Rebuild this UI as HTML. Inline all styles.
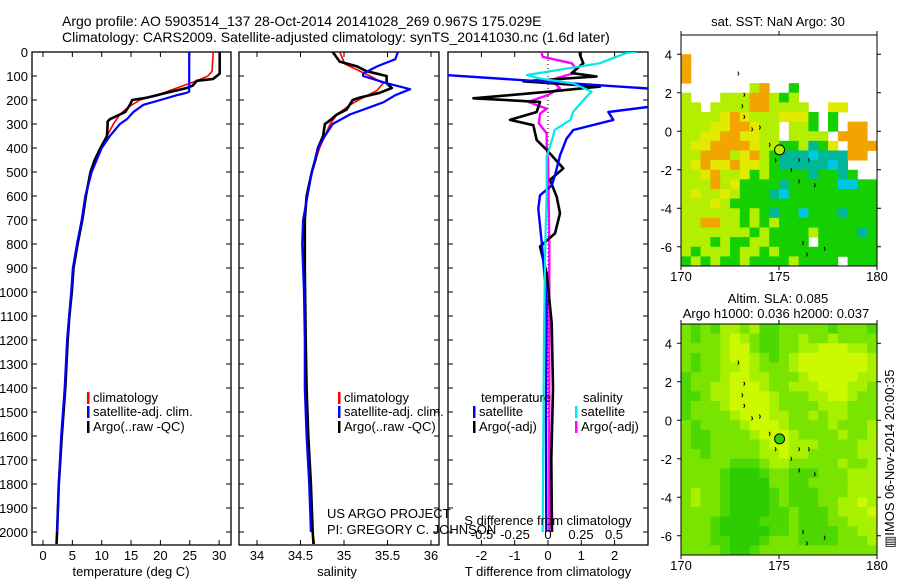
<!DOCTYPE html>
<html><head><meta charset="utf-8">
<style>
html,body{margin:0;padding:0;background:#fff;}
svg{display:block;font-family:"Liberation Sans",sans-serif;}
text{fill:#000;}
</style></head>
<body>
<svg id="chart" width="900" height="580" viewBox="0 0 900 580" xmlns="http://www.w3.org/2000/svg">
<rect x="0" y="0" width="900" height="580" fill="#fff"/>
<text x="62" y="26" font-size="14">Argo profile: AO 5903514_137 28-Oct-2014 20141028_269 0.967S 175.029E</text>
<text x="62" y="42" font-size="14">Climatology: CARS2009. Satellite-adjusted climatology: synTS_20141030.nc (1.6d later)</text>
<defs>
<clipPath id="c1"><rect x="32" y="52" width="199" height="493"/></clipPath>
<clipPath id="c2"><rect x="239" y="52" width="200" height="493"/></clipPath>
<clipPath id="c3"><rect x="448" y="52" width="200" height="493"/></clipPath>
</defs>
<g id="g1"></g>
<g id="g2"></g>
<g id="g3"></g>
<g id="m1"></g>
<g id="m2"></g>
<text x="778" y="26" font-size="13" text-anchor="middle">sat. SST: NaN Argo: 30</text>
<text x="778" y="303" font-size="13" text-anchor="middle">Altim. SLA: 0.085</text>
<text x="776" y="318" font-size="13" text-anchor="middle">Argo h1000: 0.036 h2000: 0.037</text>
<text transform="translate(894,548) rotate(-90)" font-size="13">▥IMOS 06-Nov-2014 20:00:35</text>
<text x="327" y="518" font-size="13">US ARGO PROJECT</text>
<text x="327" y="534" font-size="13">PI: GREGORY C. JOHNSON</text>
</svg>
<script>
const NS='http://www.w3.org/2000/svg';
const depthTicks=[0,100,200,300,400,500,600,700,800,900,1000,1100,1200,1300,1400,1500,1600,1700,1800,1900,2000];
const tempTicks=[0,5,10,15,20,25,30];
const salTicks=[34,34.5,35,35.5,36];
const tdiffTicks=[-2,-1,0,1,2];
const sdiffTicks=[-0.5,-0.25,0,0.25,0.5];

const argoTempDepth=[0,90,100,112,120,140,150,160,170,180,190,200,220,250,280,290,300,350,400,450,500,600,700,800,900,1000,1100,1200,1400,1600,1800,2000,2050];
const argoTemp=[30.1,30.1,29.6,29.0,26.2,25.5,24.5,22.8,21.0,19.4,17.7,15.2,14.8,14.0,11.4,11.0,11.0,10.9,9.8,8.8,8.1,7.3,6.7,5.9,5.2,4.9,4.5,4.2,3.8,3.2,2.7,2.4,2.3];
const climTempDepth=[0,80,100,120,150,180,200,230,260,300,350,400,500,600,700,800,900,1000,1200,1400,1600,1800,2000,2050];
const climTemp=[29.0,28.8,28.1,26.2,22.8,19.4,16.5,14.5,13.1,12.0,10.9,9.8,8.1,7.2,6.6,5.8,5.1,4.8,4.1,3.7,3.1,2.7,2.4,2.3];
const satTempDepth=[0,165,170,180,200,220,250,280,300,350,400,500,600,700,800,900,1000,1200,1400,1600,1800,2000];
const satTemp=[24.9,24.9,24.5,22.8,20.0,17.1,15.4,14.3,13.1,11.4,10.0,8.3,7.2,6.6,5.8,5.1,4.8,4.1,3.7,3.1,2.7,2.4];

const argoSalDepth=[0,40,60,80,100,130,150,170,190,200,240,260,290,300,350,400,450,500,600,700,900,1200,1400,1600,1800,2000,2050];
const argoSal=[34.87,34.95,35.15,35.26,35.49,35.49,35.55,35.41,35.18,35.10,35.03,34.92,34.82,34.78,34.76,34.70,34.67,34.63,34.57,34.55,34.55,34.56,34.57,34.59,34.62,34.64,34.65];
const climSalDepth=[0,50,100,130,160,190,220,260,300,400,500,600,700,900,1200,1400,1600,1800,2000,2050];
const climSal=[34.95,35.01,35.30,35.45,35.38,35.22,35.07,34.92,34.84,34.72,34.63,34.57,34.55,34.55,34.56,34.57,34.59,34.62,34.64,34.66];
const satSalDepth=[0,30,60,90,100,130,155,180,210,230,260,300,350,400,500,700,800,1000,1200,1400,1600,1800,2000];
const satSal=[35.62,35.59,35.38,35.22,35.22,35.49,35.76,35.59,35.45,35.30,35.07,34.87,34.78,34.70,34.63,34.53,34.52,34.54,34.55,34.55,34.57,34.60,34.62];

const tdiffSatDepth=[0,90,96,153,160,220,229,250,283,325,361,431,514,556,597,653,792,1042,1500,2000];
const tdiffSat=[-4,-4,-3.1,3.1,4,4,3.0,1.81,1.96,0.76,0.56,0.36,0.21,0.11,-0.24,-0.29,-0.19,-0.04,-0.06,-0.05];
const tdiffArgoDepth=[0,13,47,88,102,122,144,165,193,208,250,283,305,367,408,485,533,603,672,756,811,922,1130,1400,1700,2000];
const tdiffArgo=[0.96,0.96,1.06,0.71,1.46,-0.74,1.56,0.06,-2.24,-0.24,-0.34,-1.14,-0.44,-0.34,-0.04,0.46,0.06,0.26,0.36,0.21,-0.24,-0.04,0.11,0.15,0.1,0.12];
const sdiffSatDepth=[0,5,47,96,110,131,165,193,250,283,325,367,436,506,575,783,1172,2000];
const sdiffSat=[0.67,0.59,0.39,-0.16,-0.07,0.19,0.33,0.28,0.19,0.17,0.05,0.03,-0.01,-0.01,-0.01,-0.02,-0.03,-0.04];
const sdiffArgoDepth=[0,20,47,68,88,110,131,151,179,208,236,257,297,339,394,450,800,1200,2000];
const sdiffArgo=[-0.05,-0.04,0.18,0.21,0.20,0.06,0.05,0.09,0,-0.15,-0.01,-0.06,-0.07,-0.01,-0.01,0.0,0.01,0.01,0.01];

const sstRows=["....................","....................","o...................","o...................","o...................",".......lo..g........","l...llloolgl........","ll.lllloollll..yy...","llllyoylllyyyg.g....","lllyyooyll.llg.g.oo.","llyyooyyll.llll.ooo.","lyyooooyllgglcgy.ooo","llooolyolgcccbcccoo.","lyoyyoyylgcccccbc...","llyollyglggggcggcg..","lllolyggggcgggggbbgg","lyllylgggcbggggggggg","lllylggggggggggggggg","llllllglgcggbgggcggg","lloollglglgggggggggg","lllllllglgggglggggcg","lllglggllgggg.gggggg","lglllgllglgggggggggg","glglgglgggglgggg.ggg"];
const slaRows=["mgmgllmlggmmmmmgmmmg","mgmmlLlmggmmlmmlmmmm","mmmmlLLmggmmllLLLllm","mgmmlLLlmgmlLLLLLLLl","mgmmllLlmmmlLLLLLLLl","gmmmlLLllmmmlLLLLLll","gmmllLLLlmmlllLLLllm","ggmllLLLLlmmmllLLlmm","gmmmlLLLLlmmmmlllmmm","gmmmmlLLLllmmlmllmmm","mgmmmmlLLLlmmmmlmmml","mggmmmmlLLLlmmmmlmml","mggmmmmmlLLlllmmmmll","mmgmmmmmllLllmmmmmll","mmmmmgggmllmmmmmlmml","mmmmgGGGgmmgggmmmlll","mmmmgGGGGmmggmmmmlll","mlmmgGGGGgmgggmmmlll","mlmmgGGGGgmgggmmllLl","mmmmgGGGGggmgggmlllL","mmmgGGGGgggmgggmmlll","mmmgGGGGGggmggggmmll","mmmggGGGgmmmggggmmml","mmmmgGGgmmmmmmmmmmmm"];
const floatLon=[175.029];
const floatLat=[-0.967];

const sstColors={l:'#b4ee00',y:'#e2ea00',o:'#f2a400',g:'#14d000',c:'#00b898',b:'#00c8e0'};
const slaColors={L:'#ccf800',l:'#a6f000',m:'#78e400',g:'#4cd800',G:'#2ccc00'};

const yD=d=>52+d*0.24;
const xT=t=>43+t*5.87;
const xS=s=>257+(s-34)*87;
const xTd=v=>548+v*33.3;
const xSd=v=>548+v*132;
const lonX=lon=>681+(lon-170)*19.6;
const latY1=lat=>35+(5-lat)*19.25;
const latY2=lat=>324+(5-lat)*19.25;

function mk(tag,attrs,parent){const e=document.createElementNS(NS,tag);for(const k in attrs)e.setAttribute(k,attrs[k]);parent.appendChild(e);return e;}

function frame(g,x0,x1,name){
  const r=mk('rect',{x:x0,y:52,width:x1-x0,height:493,fill:'none',stroke:'#000','stroke-width':1.3},g);
  
  
  depthTicks.forEach(d=>{
    const t1=mk('line',{x1:x0,x2:x0+5,y1:yD(d),y2:yD(d),stroke:'#000'},g);
    
    
    const t2=mk('line',{x1:x1-5,x2:x1,y1:yD(d),y2:yD(d),stroke:'#000'},g);
    
    
  });
}
function xticks(g,ticks,fx,labels){
  ticks.forEach((t,i)=>{
    const a=mk('line',{x1:fx(t),x2:fx(t),y1:545,y2:540,stroke:'#000'},g);
    
    
    const b=mk('line',{x1:fx(t),x2:fx(t),y1:52,y2:57,stroke:'#000'},g);
    
    
    const l=mk('text',{x:fx(t),y:560,'font-size':13,'text-anchor':'middle'},g);
    l.textContent=labels?labels[i]:String(t);
    
    
  });
}
function line(g,depths,vals,fx,color,w,clip,name){
  const pts=depths.map((d,i)=>fx(vals[i]).toFixed(1)+','+yD(d).toFixed(1)).join(' ');
  const p=mk('polyline',{points:pts,fill:'none',stroke:color,'stroke-width':w,'clip-path':'url(#'+clip+')','stroke-linejoin':'round'},g);
  
  
}
function legend(g,x,y,color,txt,name){
  const r=mk('rect',{x:x,y:y-10,width:2.5,height:12,fill:color},g);
  
  
  const t=mk('text',{x:x+6,y:y,'font-size':13},g);
  t.textContent=txt;
  
  
}
function title(g,x,txt,name){
  const t=mk('text',{x:x,y:576,'font-size':13,'text-anchor':'middle'},g);
  t.textContent=txt;
  
  
}

// Panel 1
const g1=document.getElementById('g1');
frame(g1,32,231,'temperature-panel');
depthTicks.forEach(d=>{
  const l=mk('text',{x:28,y:yD(d)+5,'font-size':13,'text-anchor':'end'},g1);
  l.textContent=String(d);
  
  
});
xticks(g1,tempTicks,xT);
title(g1,131,'temperature (deg C)','temperature-axis-title');
line(g1,climTempDepth,climTemp,xT,'#ff0000',1.6,'c1','climatology-temperature-line');
line(g1,argoTempDepth,argoTemp,xT,'#000',2.6,'c1','argo-temperature-line');
line(g1,satTempDepth,satTemp,xT,'#0000ff',2.2,'c1','satellite-temperature-line');
legend(g1,87,402,'#ff0000','climatology','legend-climatology');
legend(g1,87,416,'#0000ff','satellite-adj. clim.','legend-satellite');
legend(g1,87,431,'#000','Argo(..raw -QC)','legend-argo');

// Panel 2
const g2=document.getElementById('g2');
frame(g2,239,439,'salinity-panel');
xticks(g2,salTicks,xS);
title(g2,337,'salinity','salinity-axis-title');
line(g2,climSalDepth,climSal,xS,'#ff0000',1.6,'c2','climatology-salinity-line');
line(g2,argoSalDepth,argoSal,xS,'#000',2.6,'c2','argo-salinity-line');
line(g2,satSalDepth,satSal,xS,'#0000ff',2.2,'c2','satellite-salinity-line');
legend(g2,338,402,'#ff0000','climatology','legend-climatology');
legend(g2,338,416,'#0000ff','satellite-adj. clim.','legend-satellite');
legend(g2,338,431,'#000','Argo(..raw -QC)','legend-argo');

// Panel 3
const g3=document.getElementById('g3');
frame(g3,448,648,'difference-panel');
xticks(g3,tdiffTicks,xTd);
title(g3,548,'T difference from climatology','t-difference-axis-title');
const zl=mk('line',{x1:548,x2:548,y1:52,y2:420,stroke:'#000','stroke-dasharray':'1,3'},g3);


line(g3,sdiffArgoDepth,sdiffArgo,xSd,'#ff00ff',2.4,'c3','argo-salinity-difference-line');
line(g3,tdiffArgoDepth,tdiffArgo,xTd,'#000',2.6,'c3','argo-temperature-difference-line');
line(g3,tdiffSatDepth,tdiffSat,xTd,'#0000ff',2.4,'c3','satellite-temperature-difference-line');
line(g3,sdiffSatDepth,sdiffSat,xSd,'#00e8e8',2.2,'c3','satellite-salinity-difference-line');
const th=mk('text',{x:481,y:402,'font-size':13},g3);th.textContent='temperature';


const sh=mk('text',{x:583,y:402,'font-size':13},g3);sh.textContent='salinity';


legend(g3,473,416,'#0000ff','satellite','legend-t-satellite');
legend(g3,473,431,'#000','Argo(-adj)','legend-t-argo');
legend(g3,575,416,'#00e8e8','satellite','legend-s-satellite');
legend(g3,575,431,'#ff00ff','Argo(-adj)','legend-s-argo');
const st=mk('text',{x:548,y:525,'font-size':13,'text-anchor':'middle'},g3);st.textContent='S difference from climatology';


sdiffTicks.forEach(t=>{
  const l=mk('text',{x:xSd(t),y:539,'font-size':13,'text-anchor':'middle'},g3);
  l.textContent=String(t);
  
  
});

// Maps
function drawMap(gid,rows,colors,latY,top,name,circleFill,xlabY){
  const g=document.getElementById(gid);
  const cw=19.6/2, ch=19.25/2;
  rows.forEach((row,r)=>{
    for(let c=0;c<row.length;c++){
      const col=colors[row[c]];
      if(!col) continue;
      const cell=mk('rect',{x:(lonX(170+c*0.5)).toFixed(2),y:(latY(5-r*0.5)).toFixed(2),width:cw+0.4,height:ch+0.4,fill:col},g);
      
      
    }
  });
  const fr=mk('rect',{x:681,y:top,width:196,height:231,fill:'none',stroke:'#000','stroke-width':1},g);
  
  
  [4,2,0,-2,-4,-6].forEach(v=>{
    const y=latY(v);
    const tk=mk('line',{x1:677,x2:681,y1:y,y2:y,stroke:'#000'},g);
    
    
    const tk2=mk('line',{x1:877,x2:881,y1:y,y2:y,stroke:'#000'},g);
    
    
    const l=mk('text',{x:672,y:y+5,'font-size':13,'text-anchor':'end'},g);
    l.textContent=String(v);
    
    
  });
  [170,175,180].forEach(v=>{
    const x=lonX(v);
    const tk=mk('line',{x1:x,x2:x,y1:top+231,y2:top+235,stroke:'#000'},g);
    
    
    const tk2=mk('line',{x1:x,x2:x,y1:top-4,y2:top,stroke:'#000'},g);
    
    
    const l=mk('text',{x:x,y:xlabY,'font-size':13,'text-anchor':'middle'},g);
    l.textContent=String(v);
    
    
  });
  // small island marks
  [[172.9,3.1],[173.2,2.0],[173.1,1.4],[173.2,0.85],[173.6,0.2],[174.0,0.3],[174.5,-0.6],[174.8,-1.4],[176.0,-1.4],[176.5,-1.4],[175.6,-1.9],[176.0,-2.5],[176.8,-2.7],[176.2,-5.7],[176.4,-6.3],[177.3,-6.0]].forEach(p=>{
    const m=mk('path',{d:'M'+lonX(p[0])+' '+latY(p[1])+' l1 2 l-1 2',fill:'none',stroke:'#000','stroke-width':1},g);
    
    
  });
  const cir=mk('circle',{cx:lonX(floatLon[0]),cy:latY(floatLat[0]),r:5,fill:circleFill,stroke:'#000','stroke-width':1},g);
  
  
}
drawMap('m1',sstRows,sstColors,latY1,35,'sst-map','#b4ee00',281);
drawMap('m2',slaRows,slaColors,latY2,324,'sla-map','#30d000',570);
</script>
</body></html>
